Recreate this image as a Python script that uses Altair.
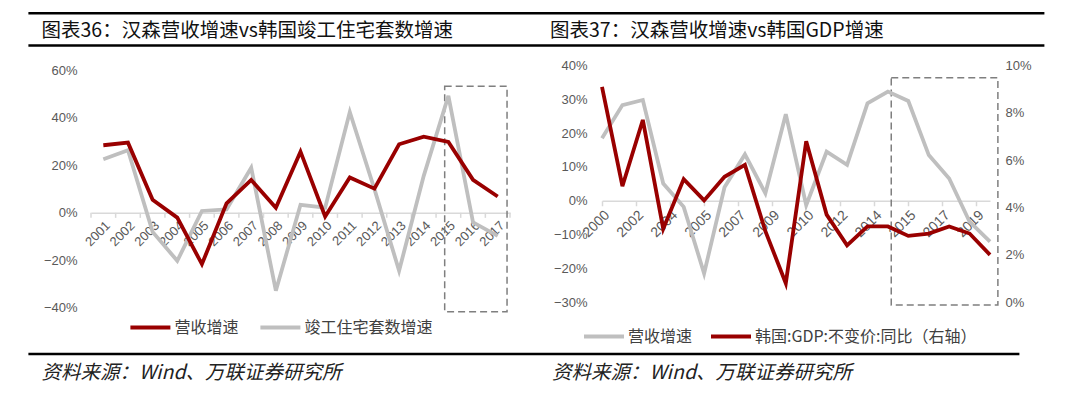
import altair as alt
import pandas as pd

# ---------------- data ----------------
years_left = [2001, 2002, 2003, 2004, 2005, 2006, 2007, 2008, 2009, 2010,
              2011, 2012, 2013, 2014, 2015, 2016, 2017]
rev_growth_left = [28.5, 29.6, 5.5, -2.0, -21.6, 4.0, 13.9, 2.2, 25.8, -1.5,
                   14.9, 10.2, 28.9, 32.1, 29.9, 13.9, 6.9]
housing_growth_left = [22.6, 26.4, -8.0, -20.2, 0.8, 1.5, 19.0, -32.8, 3.4, 2.2,
                       42.5, 10.0, -24.4, 15.6, 49.3, -4.0, -9.7]

years_right = [2000, 2001, 2002, 2003, 2004, 2005, 2006, 2007, 2008, 2009,
               2010, 2011, 2012, 2013, 2014, 2015, 2016, 2017, 2018, 2019]
rev_growth_right = [18.5, 28.3, 29.8, 5.1, -1.8, -21.5, 4.0, 13.7, 2.2, 25.6,
                    -1.3, 14.5, 10.6, 28.8, 32.3, 29.5, 13.5, 6.6, -6.2, -12.1]
gdp_growth_right = [9.1, 4.9, 7.7, 3.1, 5.2, 4.3, 5.3, 5.8, 3.0, 0.8,
                    6.8, 3.7, 2.4, 3.2, 3.2, 2.8, 2.9, 3.2, 2.9, 2.0]

left_y_ticks = [-40, -20, 0, 20, 40, 60]
right_y_ticks = [-30, -20, -10, 0, 10, 20, 30, 40]
gdp_y_ticks = [0, 2, 4, 6, 8, 10]
right_x_tick_dates = ["2000-12-31", "2002-08-31", "2004-04-30", "2005-12-31",
                      "2007-08-31", "2009-04-30", "2010-12-31", "2012-08-31",
                      "2014-04-30", "2015-12-31", "2017-08-31", "2019-04-30"]

S_REV = "营收增速"
S_HOUSE = "竣工住宅套数增速"
S_GDP = "韩国:GDP:不变价:同比（右轴）"
TITLE_L = "图表36：汉森营收增速vs韩国竣工住宅套数增速"
TITLE_R = "图表37：汉森营收增速vs韩国GDP增速"
SOURCE = "资料来源：Wind、万联证券研究所"

# highlighted periods (data units)
box_left = {"x0": 2014.85, "x1": 2017.38, "y0": 53.4, "y1": -41.7}
box_right = {"x0": "2015-03-01", "x1": "2020-05-20", "y0": 36.4, "y1": -30.8}

# ---------------- style ----------------
RED = "#990000"
GRAY = "#BFBFBF"
AXC = "#D9D9D9"
LABC = "#595959"
BOXC = "#7F7F7F"
NUM_FONT = "Liberation Sans"
CJK = "Noto Sans CJK SC"

LW, LH = 419, 242.3
RW, RH = 388, 236.7
L_DOM = [-40, 62.1]
R_DOM = [-30, 40]
G_DOM = [0, 10]

one = pd.DataFrame({"k": [0]})


def text_at(txt, x, y, size, color, style="normal", font=CJK):
    return alt.Chart(one).mark_text(
        text=txt, align="left", baseline="middle", font=font, fontSize=size,
        color=color, fontStyle=style
    ).encode(x=alt.value(x), y=alt.value(y))


def hrule(x0, x1, y, w):
    return alt.Chart(one).mark_rule(color="black", strokeWidth=w).encode(
        x=alt.value(x0), x2=alt.value(x1), y=alt.value(y))


def pct_axis(values, orient, pad):
    return alt.Axis(values=values, labelExpr="format(datum.value, 'd') + '%'",
                    orient=orient, grid=False, domain=False, ticks=False,
                    labelPadding=pad, labelFont=NUM_FONT, labelFontSize=13,
                    labelColor=LABC, title=None)


def legend(x, y, colpad):
    return alt.Legend(orient="none", legendX=x, legendY=y, direction="horizontal",
                      title=None, symbolType="stroke", symbolStrokeWidth=4,
                      symbolSize=1600, labelFont=CJK, labelFontSize=16,
                      labelColor="#404040", columnPadding=colpad, labelOffset=2,
                      labelLimit=0, padding=0)


# ---------------- left panel ----------------
rev_l = pd.DataFrame({"year": years_left, "val": rev_growth_left, "series": S_REV})
house_l = pd.DataFrame({"year": years_left, "val": housing_growth_left, "series": S_HOUSE})
bounds_l = [y - 0.5 for y in years_left] + [years_left[-1] + 0.5]
ticks_l = pd.DataFrame({"year": bounds_l, "val": 0.0, "val2": -2.1})
box_l = pd.DataFrame({"year": [box_left["x0"]], "year2": [box_left["x1"]],
                      "val": [box_left["y0"]], "val2": [box_left["y1"]]})

zero_off_l = LH * (0 - L_DOM[0]) / (L_DOM[1] - L_DOM[0])
xl = alt.X("year:Q",
           scale=alt.Scale(domain=[bounds_l[0], bounds_l[-1]], nice=False, zero=False),
           axis=alt.Axis(values=years_left, format="d", labelAngle=-45, ticks=False,
                         grid=False, domainColor=AXC, domainWidth=1.5,
                         offset=-zero_off_l, labelPadding=6, labelFont=NUM_FONT,
                         labelFontSize=13, labelColor=LABC, labelOverlap=False,
                         title=None))
yl = alt.Y("val:Q", scale=alt.Scale(domain=L_DOM, nice=False, zero=False),
           axis=pct_axis(left_y_ticks, "left", 14))
color_l = alt.Color("series:N",
                    scale=alt.Scale(domain=[S_REV, S_HOUSE], range=[RED, GRAY]),
                    legend=legend(37.4, 240, 13))

l_box = alt.Chart(box_l).mark_rect(fillOpacity=0, stroke=BOXC, strokeWidth=1.5,
                                   strokeDash=[7, 4]).encode(
    x=xl, x2=alt.X2("year2"), y=yl, y2=alt.Y2("val2"))
l_ticks = alt.Chart(ticks_l).mark_rule(color=AXC, strokeWidth=1.5).encode(
    x=xl, y=yl, y2=alt.Y2("val2"))
l_house = alt.Chart(house_l).mark_line(strokeWidth=3.8).encode(x=xl, y=yl, color=color_l)
l_rev = alt.Chart(rev_l).mark_line(strokeWidth=3.8).encode(x=xl, y=yl, color=color_l)

left = alt.layer(
    l_box, l_ticks, l_house, l_rev,
    hrule(-62.6, 953.4, -52.3, 2.5),
    hrule(-62.6, 953.4, -20, 2.5),
    hrule(-62.6, 928.4, 288.5, 2.5),
    text_at(TITLE_L, -49.5, -35, 19.5, "#111111"),
    text_at(SOURCE, -49.5, 307, 19.5, "#222222", style="italic"),
).properties(width=LW, height=LH)

# ---------------- right panel ----------------
dates_r = [f"{y}-12-31" for y in years_right]


def dt(s):
    y, m, d = map(int, s.split("-"))
    return alt.DateTime(year=y, month=m, date=d, utc=True)


rev_r = pd.DataFrame({"date": dates_r, "v": rev_growth_right, "series": S_REV})
gdp_r = pd.DataFrame({"date": dates_r, "g": gdp_growth_right, "series": S_GDP})
box_r = pd.DataFrame({"date": [box_right["x0"]], "date2": [box_right["x1"]],
                      "v": [box_right["y0"]], "v2": [box_right["y1"]]})

zero_off_r = RH * (0 - R_DOM[0]) / (R_DOM[1] - R_DOM[0])
xr = alt.X("date:T",
           scale=alt.Scale(type="utc", domain=[dt(dates_r[0]), dt(dates_r[-1])], nice=False),
           axis=alt.Axis(values=[dt(s) for s in right_x_tick_dates], format="%Y",
                         labelAngle=-45, tickSize=5, tickColor=AXC, tickWidth=1.5,
                         grid=False, domainColor=AXC, domainWidth=1.5,
                         offset=-zero_off_r, labelPadding=2, labelFont=NUM_FONT,
                         labelFontSize=14, labelColor=LABC, labelOverlap=False,
                         labelBound=False, labelFlush=False, title=None))
yr = alt.Y("v:Q", scale=alt.Scale(domain=R_DOM, nice=False, zero=False),
           axis=pct_axis(right_y_ticks, "left", 15))
yg = alt.Y("g:Q", scale=alt.Scale(domain=G_DOM, nice=False, zero=False),
           axis=pct_axis(gdp_y_ticks, "right", 15))
color_r = alt.Color("series:N",
                    scale=alt.Scale(domain=[S_REV, S_GDP], range=[GRAY, RED]),
                    legend=legend(-20, 249, 10))

r_box = alt.Chart(box_r).mark_rect(fillOpacity=0, stroke=BOXC, strokeWidth=1.5,
                                   strokeDash=[7, 4]).encode(
    x=xr, x2=alt.X2("date2"), y=yr, y2=alt.Y2("v2"))
r_rev = alt.Chart(rev_r).mark_line(strokeWidth=3.8).encode(x=xr, y=yr, color=color_r)
r_gdp = alt.Chart(gdp_r).mark_line(strokeWidth=3.8).encode(x=xr, y=yg, color=color_r)

right = alt.layer(
    alt.layer(r_box, r_rev),
    r_gdp,
    text_at(TITLE_R, -52, -35, 19.5, "#111111"),
    text_at(SOURCE, -50, 307, 19.5, "#222222", style="italic"),
).resolve_scale(y="independent").properties(width=RW, height=RH)

chart = alt.hconcat(left, right, spacing=92, bounds="flush").resolve_scale(
    x="independent", y="independent", color="independent"
).resolve_legend(color="independent").properties(
    padding={"left": 19, "top": 3.5, "right": 10, "bottom": 10}
).configure_view(stroke=None)

chart.save("out.html", embed_options={"renderer": "svg", "actions": False})
